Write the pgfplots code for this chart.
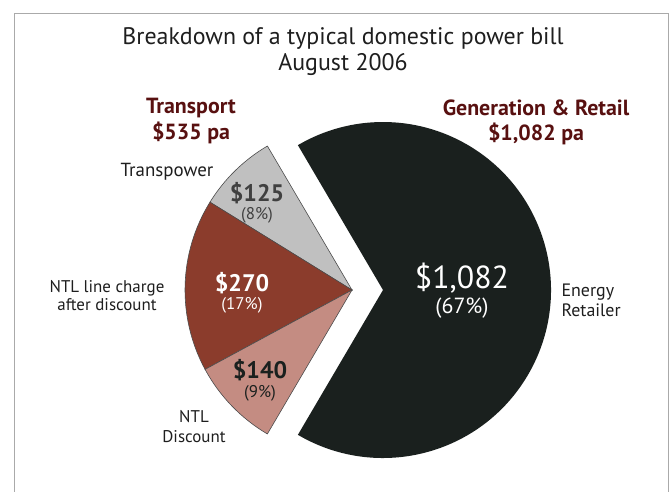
\documentclass[border=0pt]{standalone}
\usepackage{pgfplots}
\usepackage{pgfplotstable}
\pgfplotsset{compat=1.18}
\usepackage{fontspec}
\setmainfont{PT Sans}

\definecolor{retail}{RGB}{26,32,30}
\definecolor{tpgrey}{RGB}{192,192,192}
\definecolor{linered}{RGB}{139,60,44}
\definecolor{discpink}{RGB}{196,140,130}
\definecolor{maroon}{RGB}{88,16,16}
\definecolor{inktext}{RGB}{30,30,30}
\definecolor{framegrey}{RGB}{170,170,170}

% bill components, $ per annum
\pgfplotstableread{
part value
Transpower 125
NTLline 270
NTLdiscount 140
Retailer 1082
}\billdata

\begin{document}
\begin{tikzpicture}
\pgfplotstablegetelem{0}{value}\of\billdata \let\vA\pgfplotsretval
\pgfplotstablegetelem{1}{value}\of\billdata \let\vB\pgfplotsretval
\pgfplotstablegetelem{2}{value}\of\billdata \let\vC\pgfplotsretval
\pgfplotstablegetelem{3}{value}\of\billdata \let\vD\pgfplotsretval
\pgfmathsetmacro\total{\vA+\vB+\vC+\vD}
\pgfmathsetmacro\half{\vD/\total*180}
\pgfmathsetmacro\aB{\half+\vA/\total*360}
\pgfmathsetmacro\aC{\aB+\vB/\total*360}
\pgfmathsetmacro\aD{\aC+\vC/\total*360}
\begin{axis}[
    x=1bp, y=1bp,
    xmin=0, xmax=672, ymin=0, ymax=492,
    scale only axis,
    hide axis,
    clip=false,
]
\fill[white] (axis cs:0,0) rectangle (axis cs:672,492);
\draw[framegrey, line width=0.8bp] (axis cs:14,0) -- (axis cs:14,479) -- (axis cs:668,479) -- (axis cs:668,0);

% generation & retail, pulled out to the right
\fill[retail] (axis cs:383,202) -- ++(-\half:168bp)
    arc[start angle=-\half, end angle=\half, radius=168bp] -- cycle;
% transport slices
\filldraw[fill=tpgrey, draw=black!70, line width=0.6bp] (axis cs:352,202) -- ++(\half:167bp)
    arc[start angle=\half, end angle=\aB, radius=167bp] -- cycle;
\filldraw[fill=linered, draw=black!70, line width=0.6bp] (axis cs:352,202) -- ++(\aB:167bp)
    arc[start angle=\aB, end angle=\aC, radius=167bp] -- cycle;
\filldraw[fill=discpink, draw=black!70, line width=0.6bp] (axis cs:352,202) -- ++(\aC:167bp)
    arc[start angle=\aC, end angle=\aD, radius=167bp] -- cycle;

% titles
\node[inktext, font=\fontsize{24}{27}\selectfont] at (axis cs:343,454) {Breakdown of a typical domestic power bill};
\node[inktext, font=\fontsize{24}{27}\selectfont] at (axis cs:343,427) {August 2006};
\node[maroon, font=\fontsize{22}{24}\selectfont\bfseries] at (axis cs:191,384) {Transport};
\node[maroon, font=\fontsize{22}{24}\selectfont\bfseries] at (axis cs:191,359) {\$535 pa};
\node[maroon, font=\fontsize{22}{24}\selectfont\bfseries] at (axis cs:536,384) {Generation \& Retail};
\node[maroon, font=\fontsize{22}{24}\selectfont\bfseries] at (axis cs:536,358) {\$1,082 pa};

% slice names
\node[inktext, font=\fontsize{19}{20}\selectfont] at (axis cs:167,320) {Transpower};
\node[inktext, align=center, font=\fontsize{17}{18}\selectfont] at (axis cs:107,196) {NTL line charge\\after discount};
\node[inktext, align=center, font=\fontsize{17}{20}\selectfont] at (axis cs:194,65) {NTL\\Discount};
\node[inktext, align=left, anchor=west, font=\fontsize{18}{20}\selectfont] at (axis cs:558,192) {Energy\\Retailer};

% slice values
\node[black!75, font=\fontsize{24}{26}\selectfont\bfseries] at (axis cs:257,299) {\$125};
\node[black!75, font=\fontsize{17}{19}\selectfont] at (axis cs:257,277) {(8\%)};
\node[white, font=\fontsize{24}{26}\selectfont\bfseries] at (axis cs:242,209) {\$270};
\node[white, font=\fontsize{17}{19}\selectfont] at (axis cs:242,187) {(17\%)};
\node[retail, font=\fontsize{24}{26}\selectfont\bfseries] at (axis cs:260,122) {\$140};
\node[retail, font=\fontsize{17}{19}\selectfont] at (axis cs:260,99) {(9\%)};
\node[white, font=\fontsize{32}{36}\selectfont] at (axis cs:462,214) {\$1,082};
\node[white, font=\fontsize{22}{25}\selectfont] at (axis cs:462,184) {(67\%)};
\end{axis}
\end{tikzpicture}
\end{document}
